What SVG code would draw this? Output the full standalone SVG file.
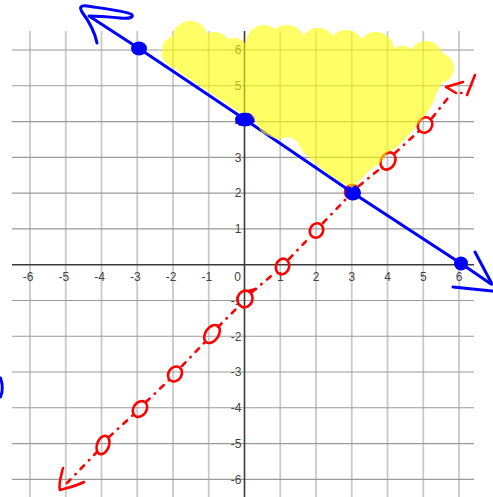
<svg xmlns="http://www.w3.org/2000/svg" width="493" height="497" viewBox="0 0 493 497">
<style>
.vg{stroke:#c9c9c9;stroke-width:1.8}
.hg{stroke:#9a9a9a;stroke-width:1.1}
.ax{stroke:#3a3a3a;stroke-width:1.6}
.lb{font-family:"Liberation Sans",Arial,sans-serif;font-size:12px;fill:#444}
.xl{text-anchor:middle}
.yl{text-anchor:end}
.blue{fill:none;stroke:#0000ff;stroke-width:3;stroke-linecap:round;stroke-linejoin:round}
.red{fill:none;stroke:#ff0000;stroke-width:2.6;stroke-linecap:round;stroke-linejoin:round}
.dash{fill:none;stroke:#ff0000;stroke-width:2.6;stroke-linecap:round;stroke-dasharray:5 7 0.5 7}
.dot{fill:#0000ff}
</style>
<rect width="493" height="497" fill="#ffffff"/>
<g id="grid">
<g class="vg">
<line x1="30" y1="31" x2="30" y2="497"/>
<line x1="65.75" y1="31" x2="65.75" y2="497"/>
<line x1="101.5" y1="31" x2="101.5" y2="497"/>
<line x1="137.25" y1="31" x2="137.25" y2="497"/>
<line x1="173" y1="31" x2="173" y2="497"/>
<line x1="208.75" y1="31" x2="208.75" y2="497"/>
<line x1="280.25" y1="31" x2="280.25" y2="497"/>
<line x1="316" y1="31" x2="316" y2="497"/>
<line x1="351.75" y1="31" x2="351.75" y2="497"/>
<line x1="387.5" y1="31" x2="387.5" y2="497"/>
<line x1="423.25" y1="31" x2="423.25" y2="497"/>
<line x1="459" y1="31" x2="459" y2="497"/>
</g>
<g class="hg">
<line x1="12" y1="50" x2="474" y2="50"/>
<line x1="12" y1="85.8" x2="474" y2="85.8"/>
<line x1="12" y1="121.6" x2="474" y2="121.6"/>
<line x1="12" y1="157.4" x2="474" y2="157.4"/>
<line x1="12" y1="193.1" x2="474" y2="193.1"/>
<line x1="12" y1="228.9" x2="474" y2="228.9"/>
<line x1="12" y1="300.5" x2="474" y2="300.5"/>
<line x1="12" y1="336.3" x2="474" y2="336.3"/>
<line x1="12" y1="372" x2="474" y2="372"/>
<line x1="12" y1="407.8" x2="474" y2="407.8"/>
<line x1="12" y1="443.6" x2="474" y2="443.6"/>
<line x1="12" y1="479.4" x2="474" y2="479.4"/>
</g>
<g class="ax">
<line x1="12" y1="264.7" x2="474" y2="264.7"/>
<line x1="244.5" y1="31" x2="244.5" y2="497"/>
</g>
</g>
<g id="labels" class="lb">
<g class="xl">
<text x="28" y="280.5">-6</text>
<text x="63.75" y="280.5">-5</text>
<text x="99.5" y="280.5">-4</text>
<text x="135.25" y="280.5">-3</text>
<text x="171" y="280.5">-2</text>
<text x="206.75" y="280.5">-1</text>
<text x="237.5" y="280.5">0</text>
<text x="280.25" y="280.5">1</text>
<text x="316" y="280.5">2</text>
<text x="351.75" y="280.5">3</text>
<text x="387.5" y="280.5">4</text>
<text x="423.25" y="280.5">5</text>
<text x="459" y="280.5">6</text>
</g>
<g class="yl">
<text x="241.5" y="54.3">6</text>
<text x="241.5" y="90.1">5</text>
<text x="241.5" y="125.9">4</text>
<text x="241.5" y="161.7">3</text>
<text x="241.5" y="197.4">2</text>
<text x="241.5" y="233.2">1</text>
<text x="241.5" y="304.8">-1</text>
<text x="241.5" y="340.6">-2</text>
<text x="241.5" y="376.3">-3</text>
<text x="241.5" y="412.1">-4</text>
<text x="241.5" y="447.9">-5</text>
<text x="241.5" y="483.7">-6</text>
</g>
</g>
<g id="red-line">
<path class="dash" d="M67,483 L97,452 M109,437 L133,415 M146,402 L169,380 M182,366 L205,342 M218,327 L239,306 M252,292 L276,272 M289,259 L310,237 M323,223 L346,199 M359,186 L382,167 M395,153 L419,131 M432,118 L448,98"/>
<path class="red" d="M63,468 C61,476 58,485 60,490 C67,488 76,486 84,482"/>
<path class="red" d="M463,82 L446,87 L456,93 M461,93 L461.5,93 M475,75 L467,95"/>
<g class="red">
<ellipse cx="103" cy="445" rx="6" ry="9.5" transform="rotate(20 103 445)"/>
<ellipse cx="140" cy="409" rx="6.5" ry="8.5" transform="rotate(35 140 409)"/>
<ellipse cx="175" cy="374" rx="6.5" ry="8" transform="rotate(35 175 374)"/>
<ellipse cx="212" cy="334" rx="6.5" ry="10" transform="rotate(35 212 334)"/>
<ellipse cx="245" cy="299" rx="7.5" ry="8.5" transform="rotate(20 245 299)"/>
<path d="M248,291 L256,289"/>
<ellipse cx="282.5" cy="266.5" rx="6.5" ry="8" transform="rotate(20 282.5 266.5)"/>
<ellipse cx="316.5" cy="230.5" rx="6.5" ry="7.5" transform="rotate(30 316.5 230.5)"/>
<ellipse cx="352" cy="192" rx="7" ry="7"/>
<ellipse cx="388" cy="161" rx="7" ry="9" transform="rotate(30 388 161)"/>
<ellipse cx="425" cy="125" rx="7" ry="8" transform="rotate(35 425 125)"/>
</g>
</g>
<g id="blue-line">
<path class="blue" d="M97,43 C95,33 88,20 82,12 C79,7 81,5 87,6 C100,8 125,11 131,14 C135,17 130,19 120,18 C110,17 95,16 89,16 L139,48.5 L245,119.5 L353,193 L461,263.5 L491,284"/>
<path class="blue" d="M475,252 L492,284 M453,287 L492,291"/>
<path class="blue" d="M0.5,378 Q4,388 0.5,397"/>
<ellipse class="dot" cx="139" cy="48.5" rx="8" ry="7"/>
<ellipse class="dot" cx="245" cy="119.5" rx="10" ry="7"/>
<ellipse class="dot" cx="353" cy="193" rx="8" ry="7.5"/>
<ellipse class="dot" cx="461" cy="263.5" rx="7" ry="7"/>
</g>
<g id="shading" fill="#ffff00" opacity="0.6">
<path d="M161,55 L165,50 L250,50 L300,50 L350,52 L400,60 L430,65 L445,76 L441,85 L436,94 L434,101 L427,113 L413,130 L405,139 L397,147 L387,153 L380,163 L370,170 L360,180 L352,188 L338,180.5 L325,172 L312,160 L302,151 L298,142 L290,137 L276,139 L262,133 L256,122 L250,113 L240,112.5 L172,67 L165,62 Z"/>
<circle cx="176" cy="50" r="14"/>
<circle cx="190" cy="39" r="18"/>
<circle cx="214" cy="49" r="17"/>
<circle cx="234" cy="53" r="15"/>
<circle cx="264" cy="43" r="18"/>
<circle cx="287" cy="43" r="18"/>
<circle cx="318" cy="46" r="18"/>
<circle cx="346" cy="48" r="18"/>
<circle cx="376" cy="50" r="18"/>
<circle cx="402" cy="61" r="15"/>
<circle cx="426" cy="58" r="17"/>
<circle cx="439" cy="68" r="15"/>
</g>
</svg>
